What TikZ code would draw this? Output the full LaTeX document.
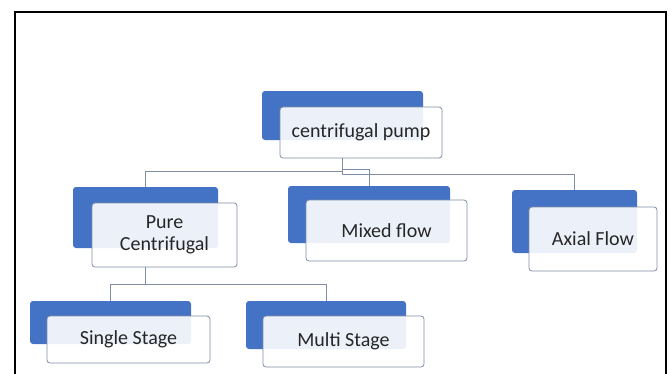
\documentclass[tikz,border=0pt]{standalone}
\usepackage{fontspec}
\setmainfont{Carlito}
\usetikzlibrary{calc}
\definecolor{boxblue}{RGB}{68,114,196}
\definecolor{linkgray}{RGB}{128,142,165}
\definecolor{inkgray}{RGB}{38,38,38}

\begin{document}
\begin{tikzpicture}[x=1pt, y=-1pt,
  back/.style = {fill=boxblue, rounded corners=3pt, inner sep=0pt},
  front/.style = {draw=linkgray, line width=0.8pt, fill=white, fill opacity=0.9, text opacity=1,
    rounded corners=3pt, inner sep=0pt, align=center, text=inkgray,
    font=\fontsize{20}{22}\selectfont},
  link/.style = {draw=linkgray, line width=0.9pt}]
\useasboundingbox (0,0) rectangle (671,373);
% blue tabs behind the boxes
\node[back, minimum width=161pt, minimum height=49pt](topb) at (342.5,115.5){};
\node[back, minimum width=145pt, minimum height=61pt](pureb) at (145.5,217.5){};
\node[back, minimum width=162pt, minimum height=57pt](mixedb) at (369,214.5){};
\node[back, minimum width=125pt, minimum height=63pt](axialb) at (574.5,221.5){};
\node[back, minimum width=161pt, minimum height=43pt](singleb) at (110.5,322.5){};
\node[back, minimum width=160pt, minimum height=48pt](multib) at (326,325){};
% the labelled boxes
\node[front, minimum width=162pt, minimum height=51pt](top) at (361,132.5){centrifugal pump};
\node[front, minimum width=145pt, minimum height=64pt](pure) at (164.5,235){Pure\\Centrifugal};
\node[front, minimum width=161pt, minimum height=61pt](mixed) at (386.5,230.5){Mixed flow};
\node[front, minimum width=128pt, minimum height=64pt](axial) at (593,239){Axial Flow};
\node[front, minimum width=163pt, minimum height=47pt](single) at (128.5,339.5){Single Stage};
\node[front, minimum width=161pt, minimum height=51pt](multi) at (343.5,341.5){Multi Stage};
% tree lines
\draw[link] (top.south -| topb.center) -- ++(0,13) -| (pureb.north);
\draw[link] (top.south -| topb.center) -- ++(0,16) -| (axialb.north);
\draw[link] (top.south -| topb.center) ++(0,11) -| (mixedb.north);
\draw[link] (pure.south -| pureb.center) -- ++(0,17) -| (singleb.north);
\draw[link] (pure.south -| pureb.center) -- ++(0,17) -| (multib.north);
% frame
\draw[line width=2pt] (15,374) -- (15,12.3) -- (665.7,12.3) -- (665.7,374);
\end{tikzpicture}
\end{document}
